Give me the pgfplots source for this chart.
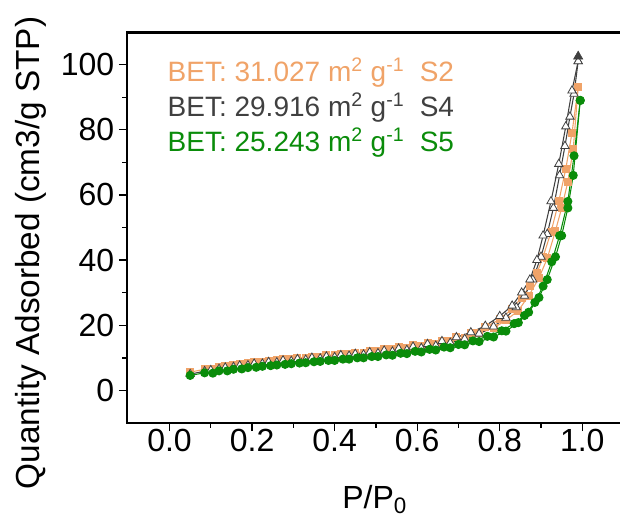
\documentclass[border=0pt]{standalone}
\usepackage{pgfplots}
\pgfplotsset{compat=1.18}
\usepackage{fontspec}
\setmainfont{Liberation Sans}
\definecolor{cS2}{RGB}{240,163,104}
\definecolor{cS4}{RGB}{64,64,64}
\definecolor{cS5}{RGB}{10,140,10}
\begin{document}
\begin{tikzpicture}
\begin{axis}[
  scale only axis,
  width=371.5pt, height=293.25pt,
  xmin=-0.103, xmax=1.097, ymin=-10, ymax=110,
  xtick pos=left, ytick pos=left,
  tick align=outside,
  xtick={0,0.2,0.4,0.6,0.8,1.0},
  ytick={0,20,40,60,80,100},
  minor x tick num=1, minor y tick num=1,
  major tick length=6pt, minor tick length=3.5pt,
  every tick/.style={black, line width=1pt},
  axis line style={line width=1.2pt},
  /pgf/number format/assume math mode=true,
  tick label style={font=\fontsize{24}{28}\selectfont},
  xticklabel style={yshift=5pt, /pgf/number format/.cd, fixed, fixed zerofill, precision=1},
  xlabel={P/P\textsubscript{0}},
  ylabel={Quantity Adsorbed (cm3/g STP)},
  xlabel style={font=\fontsize{24}{28}\selectfont, yshift=-18pt},
  ylabel style={font=\fontsize{25}{29}\selectfont, at={(ticklabel cs:0.435)}, yshift=4pt},
  clip=false,
]
\coordinate (SW) at (rel axis cs:0,0);
\coordinate (NE) at (rel axis cs:1,1);
% S2 adsorption
\addplot[cS2, line width=0.8pt, mark=square*, mark size=2.6pt, mark options={fill=cS2, draw=cS2}] coordinates {
(0.05,5.6)(0.085,6.5)(0.12,7.2)(0.155,7.8)(0.19,8.3)(0.225,8.8)(0.26,9.2)(0.295,9.6)(0.33,10.0)(0.365,10.4)(0.40,10.8)(0.435,11.2)(0.47,11.6)(0.505,12.1)(0.54,12.6)(0.575,13.1)(0.61,13.7)(0.645,14.4)(0.68,15.2)(0.715,16.2)(0.75,17.5)(0.785,19.2)(0.815,21.5)(0.845,24.5)(0.87,29)(0.895,34.5)(0.915,40.5)(0.935,49)(0.95,56)(0.965,64)(0.978,74)(0.99,93)};
% S2 desorption
\addplot[cS2, line width=0.8pt, mark=square*, mark size=2.6pt, mark options={fill=cS2, draw=cS2}] coordinates {
(0.99,93)(0.975,79)(0.96,68)(0.943,58)(0.924,48.5)(0.905,41)(0.89,36)(0.873,32)(0.853,28.5)(0.83,25)(0.80,21.8)(0.765,19.4)(0.73,17.6)(0.695,16.3)(0.66,15.3)(0.625,14.5)(0.59,13.8)(0.555,13.2)(0.52,12.6)(0.485,12.1)(0.45,11.6)(0.415,11.2)(0.38,10.8)(0.345,10.4)(0.31,10.0)(0.275,9.6)(0.24,9.1)(0.205,8.6)(0.17,8.0)(0.135,7.4)(0.10,6.7)};
% S4 adsorption
\addplot[cS4, line width=0.8pt, mark=triangle*, mark size=3.6pt, mark options={fill=white, draw=cS4, line width=0.6pt}] coordinates {
(0.05,5.0)(0.085,5.9)(0.12,6.6)(0.155,7.2)(0.19,7.7)(0.225,8.2)(0.26,8.6)(0.295,9.0)(0.33,9.4)(0.365,9.8)(0.40,10.2)(0.435,10.6)(0.47,11.0)(0.505,11.4)(0.54,11.9)(0.575,12.4)(0.61,13.0)(0.645,13.7)(0.68,14.6)(0.715,15.8)(0.75,17.4)(0.785,19.6)(0.815,22.3)(0.84,25.5)(0.86,29)(0.88,34)(0.90,41)(0.915,48)(0.93,56)(0.945,66)(0.958,75)(0.97,84)(0.98,91)(0.99,101)};
% S4 desorption
\addplot[cS4, line width=0.8pt, mark=triangle*, mark size=3.6pt, mark options={fill=white, draw=cS4, line width=0.6pt}] coordinates {
(0.99,101)(0.975,92)(0.96,81)(0.943,69.5)(0.924,58)(0.905,47.5)(0.89,40)(0.873,34)(0.853,30)(0.83,26)(0.80,22.8)(0.765,19.8)(0.73,17.8)(0.695,16.3)(0.66,15.1)(0.625,14.2)(0.59,13.4)(0.555,12.8)(0.52,12.2)(0.485,11.7)(0.45,11.2)(0.415,10.8)(0.38,10.4)(0.345,10.0)(0.31,9.6)(0.275,9.2)(0.24,8.7)(0.205,8.2)(0.17,7.6)(0.135,7.0)(0.10,6.2)};
\addplot[cS4, only marks, mark=triangle*, mark size=4pt, mark options={fill=cS4, draw=cS4}] coordinates {(0.99,102.5)};
% S5 adsorption
\addplot[cS5, line width=0.8pt, mark=*, mark size=3pt, mark options={fill=cS5, draw=cS5}] coordinates {
(0.05,4.6)(0.085,5.4)(0.12,6.0)(0.155,6.5)(0.19,7.0)(0.225,7.4)(0.26,7.8)(0.295,8.2)(0.33,8.5)(0.365,8.9)(0.40,9.2)(0.435,9.6)(0.47,10.0)(0.505,10.4)(0.54,10.8)(0.575,11.3)(0.61,11.8)(0.645,12.4)(0.68,13.1)(0.715,14.0)(0.75,15.0)(0.785,16.4)(0.815,18.2)(0.845,20.8)(0.87,24)(0.895,28.5)(0.915,34)(0.935,41)(0.95,47.5)(0.965,56)(0.978,66)(0.995,89)};
% S5 desorption
\addplot[cS5, line width=0.8pt, mark=*, mark size=3pt, mark options={fill=cS5, draw=cS5}] coordinates {
(0.995,89)(0.98,72)(0.965,58)(0.945,47.5)(0.926,39.5)(0.905,32)(0.885,27)(0.86,23)(0.835,20.5)(0.805,18.3)(0.77,16.6)(0.735,15.2)(0.70,14.1)(0.665,13.3)(0.63,12.6)(0.595,12.0)(0.56,11.4)(0.525,10.9)(0.49,10.4)(0.455,10.0)(0.42,9.6)(0.385,9.2)(0.35,8.8)(0.315,8.4)(0.28,8.0)(0.245,7.6)(0.21,7.1)(0.175,6.6)(0.14,6.0)(0.105,5.3)};
\node[anchor=base west, text=cS2, font=\fontsize{21}{25}\selectfont, inner sep=0pt] at (axis cs:-0.005,94.8) {BET: 31.027 m\textsuperscript{2} g\textsuperscript{-1}\hspace{0.55em}S2};
\node[anchor=base west, text=cS4, font=\fontsize{21}{25}\selectfont, inner sep=0pt] at (axis cs:-0.005,84.0) {BET: 29.916 m\textsuperscript{2} g\textsuperscript{-1}\hspace{0.55em}S4};
\node[anchor=base west, text=cS5, font=\fontsize{21}{25}\selectfont, inner sep=0pt] at (axis cs:-0.005,73.2) {BET: 25.243 m\textsuperscript{2} g\textsuperscript{-1}\hspace{0.55em}S5};
\end{axis}
\draw[line width=2pt, black] ([yshift=-0.4pt]SW |- NE) -- ([yshift=-0.4pt]NE);
\pgfresetboundingbox
\path[use as bounding box] ([shift={(-95.25pt,-71.25pt)}]SW) rectangle ([shift={(-1.75pt,24pt)}]NE);
\end{tikzpicture}
\end{document}
